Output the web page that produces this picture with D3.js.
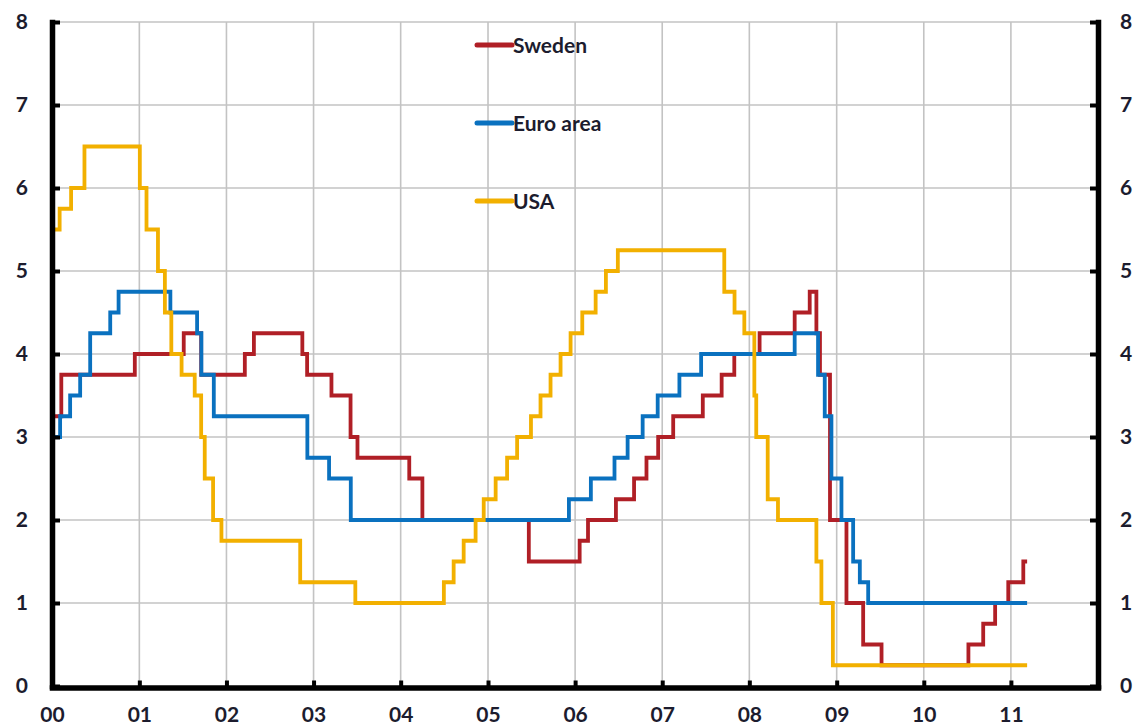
<!DOCTYPE html>
<html>
<head>
<meta charset="utf-8">
<script src="https://cdn.jsdelivr.net/npm/d3@7"></script>
<style>
  html, body { margin: 0; padding: 0; background: #fff; }
  svg { display: block; }
  text { font-family: Lato, "Open Sans", sans-serif; font-weight: 700; }
</style>
</head>
<body>
<svg id="chart" width="1137" height="728"></svg>
<script>
// ---- Data (policy rates, %, step changes) ----
const seriesNames = ["Sweden", "Euro area", "USA"];

const swedenDates = ["2000-01-01","2000-02-09","2000-12-13","2001-07-06","2001-09-17","2002-03-19","2002-04-26","2002-11-15","2002-12-05","2003-03-17","2003-06-05","2003-07-04","2004-02-06","2004-04-01","2005-06-21","2006-01-20","2006-02-24","2006-06-21","2006-09-05","2006-10-27","2006-12-15","2007-02-16","2007-06-20","2007-09-07","2007-10-30","2008-02-13","2008-07-09","2008-09-10","2008-10-08","2008-10-23","2008-12-04","2009-02-11","2009-04-22","2009-07-08","2010-07-07","2010-09-07","2010-10-27","2010-12-21","2011-02-22","2011-03-10"];
const swedenValues = [3.25,3.75,4.00,4.25,3.75,4.00,4.25,4.00,3.75,3.50,3.00,2.75,2.50,2.00,1.50,1.75,2.00,2.25,2.50,2.75,3.00,3.25,3.50,3.75,4.00,4.25,4.50,4.75,4.25,3.75,2.00,1.00,0.50,0.25,0.50,0.75,1.00,1.25,1.50,1.50];

const euroDates = ["2000-01-01","2000-02-04","2000-03-17","2000-04-28","2000-06-09","2000-09-01","2000-10-06","2001-05-11","2001-08-31","2001-09-18","2001-11-09","2002-12-06","2003-03-07","2003-06-06","2005-12-06","2006-03-08","2006-06-15","2006-08-09","2006-10-11","2006-12-13","2007-03-14","2007-06-13","2008-07-09","2008-10-15","2008-11-12","2008-12-10","2009-01-21","2009-03-11","2009-04-08","2009-05-13","2011-03-10"];
const euroValues = [3.00,3.25,3.50,3.75,4.25,4.50,4.75,4.50,4.25,3.75,3.25,2.75,2.50,2.00,2.25,2.50,2.75,3.00,3.25,3.50,3.75,4.00,4.25,3.75,3.25,2.50,2.00,1.50,1.25,1.00,1.00];

const usaDates = ["2000-01-01","2000-02-02","2000-03-21","2000-05-16","2001-01-03","2001-01-31","2001-03-20","2001-04-18","2001-05-15","2001-06-27","2001-08-21","2001-09-17","2001-10-02","2001-11-06","2001-12-11","2002-11-06","2003-06-25","2004-06-30","2004-08-10","2004-09-21","2004-11-10","2004-12-14","2005-02-02","2005-03-22","2005-05-03","2005-06-30","2005-08-09","2005-09-20","2005-11-01","2005-12-13","2006-01-31","2006-03-28","2006-05-10","2006-06-29","2007-09-18","2007-10-31","2007-12-11","2008-01-22","2008-01-30","2008-03-18","2008-04-30","2008-10-08","2008-10-29","2008-12-16","2011-03-10"];
const usaValues = [5.50,5.75,6.00,6.50,6.00,5.50,5.00,4.50,4.00,3.75,3.50,3.00,2.50,2.00,1.75,1.25,1.00,1.25,1.50,1.75,2.00,2.25,2.50,2.75,3.00,3.25,3.50,3.75,4.00,4.25,4.50,4.75,5.00,5.25,4.75,4.50,4.25,3.50,3.00,2.25,2.00,1.50,1.00,0.25,0.25];

const xTickYears = [2000,2001,2002,2003,2004,2005,2006,2007,2008,2009,2010,2011];
const xTickLabels = ["00","01","02","03","04","05","06","07","08","09","10","11"];
const yTicks = [0,1,2,3,4,5,6,7,8];
const colors = ["#B01F26", "#0A71BF", "#F2B000"];

// ---- Chart ----
const svg = d3.select("#chart");
svg.append("rect").attr("width", 1137).attr("height", 728).attr("fill", "#fff");

const parse = d3.timeParse("%Y-%m-%d");
const yr = v => new Date(v, 0, 1);

const x = d3.scaleTime().domain([yr(2000), yr(2012)]).range([52, 1098]);
const y = d3.scaleLinear().domain([0, 8]).range([686, 22]);

// gridlines
const grid = svg.append("g");
grid.selectAll("line.v").data(d3.range(2001, 2012)).join("line")
  .attr("x1", d => x(yr(d))).attr("x2", d => x(yr(d)))
  .attr("y1", y(8)).attr("y2", y(0))
  .attr("stroke", "#c3c3c3").attr("stroke-width", 1.6);
grid.selectAll("line.h").data(yTicks.filter(d => d > 0)).join("line")
  .attr("x1", x(yr(2000))).attr("x2", x(yr(2012)))
  .attr("y1", d => y(d)).attr("y2", d => y(d))
  .attr("stroke", "#c3c3c3").attr("stroke-width", 1.6);

// series
const series = [
  {name: seriesNames[0], dates: swedenDates, values: swedenValues, color: colors[0]},
  {name: seriesNames[1], dates: euroDates, values: euroValues, color: colors[1]},
  {name: seriesNames[2], dates: usaDates, values: usaValues, color: colors[2]}
];
const line = d3.line().curve(d3.curveStepAfter).x(d => x(d[0])).y(d => y(d[1]));
series.forEach(s => {
  const pts = s.dates.map((d, i) => [parse(d), s.values[i]]);
  svg.append("path").datum(pts)
    .attr("d", line)
    .attr("fill", "none")
    .attr("stroke", s.color)
    .attr("stroke-width", 3.8)
    .attr("stroke-linejoin", "miter");
});

// axes
const textColor = "#1c1c2e";
function styleAxis(g) {
  g.select(".domain").attr("stroke", "#000").attr("stroke-width", 5.5).attr("stroke-linecap", "square");
  g.selectAll(".tick line").attr("stroke", "#000").attr("stroke-width", 4);
  g.selectAll(".tick text").attr("fill", textColor).style("font-size", "21px").style("font-family", "Lato, 'Open Sans', sans-serif").style("font-weight", 700);
}

svg.append("g").attr("transform", `translate(${x(yr(2000))},0)`)
  .call(d3.axisLeft(y).tickValues(yTicks).tickFormat(d3.format("d")).tickSize(-8).tickSizeOuter(0).tickPadding(24))
  .call(styleAxis);

svg.append("g").attr("transform", `translate(${x(yr(2012))},0)`)
  .call(d3.axisRight(y).tickValues(yTicks).tickFormat(d3.format("d")).tickSize(-8).tickSizeOuter(0).tickPadding(22))
  .call(styleAxis);

svg.append("g").attr("transform", `translate(0,${y(0) + 1.5})`)
  .call(d3.axisBottom(x).tickValues(xTickYears.map(yr)).tickFormat((d, i) => xTickLabels[i]).tickSize(-7).tickSizeOuter(0).tickPadding(20))
  .call(styleAxis);

// legend
const legend = svg.append("g");
const legendY = [45, 123, 201];
series.forEach((s, i) => {
  legend.append("line")
    .attr("x1", 477).attr("x2", 512)
    .attr("y1", legendY[i]).attr("y2", legendY[i])
    .attr("stroke", s.color).attr("stroke-width", 5).attr("stroke-linecap", "round");
  legend.append("text")
    .attr("x", 513).attr("y", legendY[i]).attr("dy", "0.36em")
    .attr("fill", textColor).style("font-size", "21px")
    .text(s.name);
});
</script>
</body>
</html>
